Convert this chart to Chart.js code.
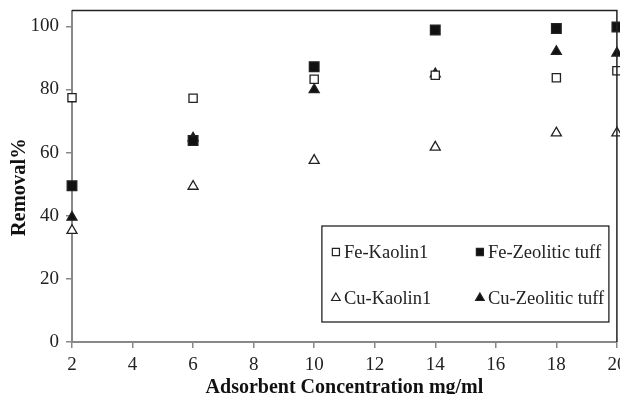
<!DOCTYPE html>
<html lang="en">
<head>
  <meta charset="UTF-8" />
  <title>Removal vs adsorbent concentration</title>
  <script src="https://cdn.jsdelivr.net/npm/chart.js"></script>
  <style>
    html, body {
      margin: 0;
      padding: 0;
      background: #fff;
      overflow: hidden;
    }
    #wrap {
      width: 625px;
      height: 400px;
    }
  </style>
</head>
<body>
  <div id="wrap"><canvas id="removalChart" width="625" height="400"></canvas></div>

  <script>
    // adsorbent concentration, mg/ml
    const concentrations = [2, 6, 10, 14, 18, 20];

    // removal %, one array per metal / adsorbent pair
    const feKaolin = [77.4, 77.2, 83.2, 84.5, 83.7, 85.9];
    const feZeolite = [49.5, 63.8, 87.2, 98.8, 99.3, 99.8];
    const cuKaolin = [35.3, 49.3, 57.5, 61.7, 66.2, 66.2];
    const cuZeolite = [39.5, 64.6, 79.9, 84.9, 92.0, 91.5];

    const xTicks = [2, 4, 6, 8, 10, 12, 14, 16, 18, 20];
    const yTicks = [0, 20, 40, 60, 80, 100];

    const serif = "'Liberation Serif', 'Times New Roman', serif";

    function points(ys) {
      return concentrations.map((x, i) => ({ x, y: ys[i] }));
    }

    const seriesStyles = [
      { label: 'Fe-Kaolin1', data: feKaolin, pointStyle: 'rect', fill: '#fff', radius: 5.8 },
      { label: 'Fe-Zeolitic tuff', data: feZeolite, pointStyle: 'rect', fill: '#111', radius: 6.8 },
      { label: 'Cu-Kaolin1', data: cuKaolin, pointStyle: 'triangle', fill: '#fff', radius: 5.8 },
      { label: 'Cu-Zeolitic tuff', data: cuZeolite, pointStyle: 'triangle', fill: '#111', radius: 5.8 }
    ];

    // top/right frame lines, the y title and the boxed 2x2 legend inside the plot
    const framePlugin = {
      id: 'frameAndLegend',
      afterDraw(chart) {
        const { ctx, chartArea: a } = chart;
        ctx.save();
        ctx.strokeStyle = '#222';
        ctx.lineWidth = 1.5;
        ctx.beginPath();
        ctx.moveTo(a.left, a.top);
        ctx.lineTo(a.right, a.top);
        ctx.lineTo(a.right, a.bottom);
        ctx.stroke();

        // y axis title, sitting a little below the plot's middle
        ctx.save();
        ctx.translate(20, (a.top + a.bottom) / 2 + 11);
        ctx.rotate(-Math.PI / 2);
        ctx.font = 'bold 20.5px ' + serif;
        ctx.fillStyle = '#111';
        ctx.textAlign = 'center';
        ctx.textBaseline = 'middle';
        ctx.fillText('Removal%', 0, 0);
        ctx.restore();

        // legend box
        const bx = a.right - 295, by = a.bottom - 116, bw = 287, bh = 96;
        ctx.lineWidth = 1.2;
        ctx.strokeStyle = '#111';
        ctx.strokeRect(bx, by, bw, bh);

        ctx.font = '18.5px ' + serif;
        ctx.textBaseline = 'middle';
        chart.data.datasets.forEach((ds, i) => {
          const col = i % 2, row = Math.floor(i / 2);
          const mx = bx + 14 + col * 144;
          const my = by + 26 + row * 46;
          ctx.fillStyle = ds.pointBackgroundColor;
          ctx.strokeStyle = '#222';
          ctx.lineWidth = 1.2;
          Chart.helpers.drawPoint(ctx, { pointStyle: ds.pointStyle, radius: 5, borderWidth: 1.2 }, mx, my);
          ctx.fillStyle = '#222';
          ctx.fillText(ds.label, mx + 8, my + 1);
        });
        ctx.restore();
      }
    };

    const ctx = document.getElementById('removalChart').getContext('2d');
    new Chart(ctx, {
      type: 'scatter',
      data: {
        datasets: seriesStyles.map(s => ({
          label: s.label,
          data: points(s.data),
          pointStyle: s.pointStyle,
          pointRadius: s.radius,
          pointHoverRadius: s.radius,
          pointBackgroundColor: s.fill,
          pointBorderColor: '#222',
          pointBorderWidth: 1.3,
          clip: false
        }))
      },
      options: {
        responsive: false,
        animation: false,
        layout: { padding: { top: 10.5, right: 3, left: 0, bottom: 0 } },
        plugins: {
          legend: { display: false },
          tooltip: { enabled: false }
        },
        scales: {
          x: {
            type: 'linear',
            min: 2,
            max: 20,
            afterBuildTicks: (scale) => { scale.ticks = xTicks.map(v => ({ value: v })); },
            afterFit: (scale) => {
              scale.paddingLeft = 0;
              scale.paddingRight = 0;
              scale.height = 58;
            },
            grid: { drawOnChartArea: false, drawTicks: true, tickLength: 6, color: '#888', lineWidth: 1.5 },
            border: { color: '#888', width: 2 },
            ticks: { color: '#222', font: { family: serif, size: 19 }, padding: 6, maxRotation: 0 },
            title: {
              display: true,
              text: 'Adsorbent Concentration mg/ml',
              color: '#111',
              font: { family: serif, size: 20, weight: 'bold' },
              padding: { top: 0, bottom: 0 }
            }
          },
          y: {
            min: 0,
            max: 105,
            afterBuildTicks: (scale) => { scale.ticks = yTicks.map(v => ({ value: v })); },
            afterFit: (scale) => {
              scale.paddingTop = 0;
              scale.paddingBottom = 0;
              scale.width = 72;
            },
            grid: { drawOnChartArea: false, drawTicks: true, tickLength: 6, color: '#888', lineWidth: 1.5 },
            border: { color: '#888', width: 2 },
            ticks: { color: '#222', font: { family: serif, size: 19 }, padding: 7 },
            title: { display: false }
          }
        }
      },
      plugins: [framePlugin]
    });
  </script>
</body>
</html>
